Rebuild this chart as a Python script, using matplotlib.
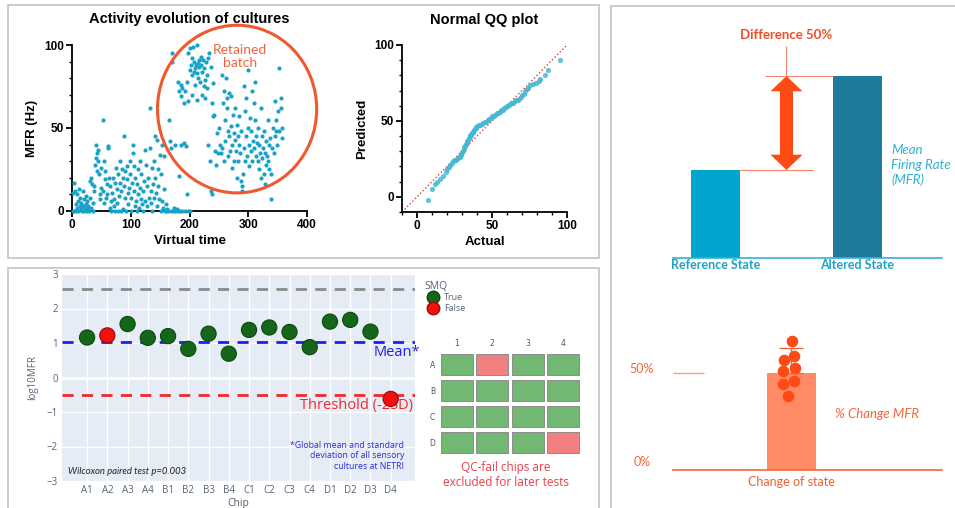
import matplotlib
matplotlib.use("Agg")
import matplotlib.pyplot as plt
from matplotlib.patches import Rectangle, Ellipse, FancyArrowPatch
from matplotlib.lines import Line2D
from matplotlib.ticker import MultipleLocator

# ---- activity scatter (virtual time vs MFR) ----
time_base = [1, 2, 3, 4, 5, 6, 7, 8, 9, 10, 11, 12, 13, 14, 15, 16, 17, 18, 19, 20, 21, 22, 23, 24, 25,
             26, 27, 28, 29, 30, 31, 32, 33, 34, 35, 36, 37, 38, 39, 40, 41, 42, 43, 44, 45, 46, 47, 48,
             49, 50, 52, 53, 54, 55, 56, 57, 58, 59, 60, 61, 62, 63, 64, 65, 66, 67, 68, 70, 71, 72, 73,
             74, 75, 76, 77, 78, 79, 80, 81, 82, 83, 84, 85, 86, 87, 88, 89, 90, 91, 92, 93, 94, 95, 96,
             97, 98, 99, 100, 101, 102, 103, 104, 105, 106, 107, 108, 109, 110, 111, 112, 113, 114, 115,
             116, 117, 118, 119, 120, 121, 122, 124, 125, 126, 127, 128, 130, 131, 132, 133, 134, 135,
             136, 137, 138, 139, 140, 141, 142, 143, 144, 145, 146, 147, 148, 150, 151, 152, 153, 154,
             155, 156, 157, 158, 160]
mfr_base = [0, 11, 17, 0, 12, 4, 0, 10, 2, 6, 0, 13, 3, 8, 1, 5, 0, 12, 3, 7, 0, 2, 9, 4, 0,
            6, 3, 1, 0, 18, 8, 2, 20, 16, 5, 0, 12, 15, 28, 32, 40, 24, 35, 37, 30, 22, 10, 7,
            26, 14, 55, 12, 5, 30, 19, 24, 8, 16, 10, 38, 39, 20, 2, 15, 6, 0, 11, 20, 3, 7, 17,
            0, 26, 13, 5, 0, 22, 9, 17, 30, 12, 0, 25, 20, 1, 45, 15, 8, 24, 0, 19, 27, 11, 4,
            14, 30, 22, 8, 0, 17, 35, 40, 12, 27, 3, 20, 6, 16, 0, 25, 10, 2, 30,
            14, 7, 22, 4, 12, 0, 18, 37, 6, 28, 15, 3, 20, 8, 38, 62, 12, 5,
            26, 0, 16, 30, 8, 45, 20, 11, 43, 3, 15, 25, 7, 34, 0, 22, 40, 6,
            2, 13, 33, 0, 4]
time_idle = [160, 162, 164, 165, 166, 168, 169, 170, 171, 172, 174, 175, 176, 178, 180, 182, 184,
             186, 188, 190, 192, 194, 196, 198, 200]
mfr_idle = [0, 1, 0, 55, 42, 0, 38, 95, 90, 0, 2, 0, 40, 1, 0, 21, 0,
            40, 0, 41, 0, 39, 10, 0, 0]
time_high = [180, 182, 185, 186, 188, 190, 192, 195, 198, 200, 201, 203, 204, 205, 206, 207, 208,
             209, 210, 211, 212, 213, 214, 215, 216, 217, 218, 219, 220, 221, 222, 223, 224, 225,
             226, 227, 228, 229, 230, 232, 234, 236, 238, 240, 205, 213, 198]
mfr_high = [78, 72, 76, 69, 74, 65, 72, 78, 95, 98, 85, 88, 82, 92, 99, 84, 90,
            76, 86, 88, 100, 83, 80, 89, 91, 87, 78, 93, 88, 70, 84, 91, 86, 75,
            79, 68, 90, 74, 82, 92, 95, 87, 65, 77, 70, 67, 66]
time_late = [232, 235, 237, 238, 240, 242, 244, 245, 246, 248, 250, 252, 253, 255, 256, 257, 258,
             259, 260, 261, 262, 263, 264, 265, 266, 267, 268, 269, 270, 271, 272, 273, 274, 275,
             276, 277, 278, 279, 280, 281, 282, 283, 284, 285, 286, 287, 288, 289, 290, 291, 292,
             293, 294, 295, 296, 297, 298, 299, 300, 301, 302, 303, 304, 305, 306, 307, 308, 309,
             310, 311, 312, 313, 314, 315, 316, 317, 318, 319, 320, 321, 322, 323, 324, 325, 326,
             327, 328, 329, 330, 331, 332, 333, 334, 335, 336, 337, 338, 339, 340, 342, 343, 345,
             346, 347, 348, 349, 350, 352, 353, 355, 356, 357, 358]
mfr_late = [40, 30, 12, 10, 57, 58, 36, 28, 47, 35, 50, 40, 35, 82, 38, 65, 72,
            30, 55, 42, 80, 68, 62, 33, 48, 71, 45, 36, 69, 51, 40, 26, 58, 47,
            30, 62, 43, 36, 52, 20, 45, 30, 40, 57, 35, 18, 48, 15, 12, 22, 75,
            38, 30, 60, 45, 68, 33, 85, 50, 40, 27, 56, 36, 48, 30, 72, 42, 65,
            38, 78, 55, 45, 33, 41, 50, 30, 25, 40, 35, 62, 20, 45, 32, 38, 22,
            48, 16, 35, 28, 42, 33, 55, 30, 40, 25, 44, 22, 7, 38, 50, 35, 66,
            45, 48, 55, 40, 60, 48, 86, 68, 62, 44, 50]

# ---- normal QQ ----
qq_actual = [7, 10, 12, 13, 15, 17, 19, 20, 21, 22, 23, 24, 25, 26, 27, 28, 28.5, 29, 29.5, 30,
             30.5, 31, 31.5, 32, 32.5, 33, 33.5, 34, 34.5, 35, 35.5, 36, 36.5, 37, 37.5, 38, 38.5,
             39, 39.5, 40, 41, 42, 43, 44, 45, 46, 47, 48, 49, 50, 51, 52, 53, 54, 55, 56, 57, 58,
             59, 60, 61, 62, 63, 64, 65, 66, 67, 68, 69, 70, 71, 72, 73, 74, 75, 77, 79, 81, 82,
             85, 87, 95]
qq_predicted = [-2, 5, 8.5, 10, 11.5, 14, 16.5, 18, 19.5, 21, 22.5, 23.5, 24, 24.5, 25.5, 26, 26.5,
                27.5, 28.5, 29.5, 30.5, 31.5, 32.5, 33.5, 34.5, 35.5, 36.5, 37.5, 38.5, 39.5, 40.5,
                41, 42, 42.5, 43, 44, 44.5, 45, 46, 46.5, 47, 47.5, 48, 48.5, 49, 49.5, 50.5, 51,
                52, 53, 53.5, 54, 55, 55.5, 56, 57, 57.5, 58.5, 59, 60, 60.5, 61, 61.5, 62, 63,
                63.5, 64, 64.5, 65.5, 67, 68, 70, 71, 72, 73.5, 74.5, 75, 76, 77.5, 80, 83.5, 90]

# ---- chip QC ----
chips = ["A1", "A2", "A3", "A4", "B1", "B2", "B3", "B4",
         "C1", "C2", "C3", "C4", "D1", "D2", "D3", "D4"]
log_mfr = [1.16, 1.22, 1.55, 1.15, 1.2, 0.83, 1.27, 0.69,
           1.38, 1.45, 1.32, 0.88, 1.62, 1.67, 1.33, -0.62]
smq_pass = [True, False, True, True, True, True, True, True,
            True, True, True, True, True, True, True, False]
global_mean = 1.03
threshold = -0.52
upper_line = 2.57
rows = ["A", "B", "C", "D"]
cols = [1, 2, 3, 4]

# ---- state comparison ----
states = ["Reference State", "Altered State"]
state_mfr = [44, 91]
change_label = ["Change of state"]
change_mean = [50]
change_sd = 12.9
change_points = [66.6, 58.8, 56.7, 52.7, 51.0, 45.9, 44.2, 38.1]
change_jitter = [0.006, 0.02, -0.051, 0.025, -0.058, 0.018, -0.062, -0.023]

W, H = 955, 508
fig = plt.figure(figsize=(W / 100, H / 100), dpi=100)


def px_axes(l, t, r, b):
    return fig.add_axes([l / W, 1 - b / H, (r - l) / W, (b - t) / H])


def px_text(x, y, s, **kw):
    return fig.text(x / W, 1 - y / H, s, **kw)


# panel frames
for (l, t, r, b) in [(8, 5, 599, 258), (8, 268, 599, 530), (611, 6, 990, 530)]:
    fig.add_artist(Rectangle((l / W, 1 - b / H), (r - l) / W, (b - t) / H, transform=fig.transFigure,
                             fill=False, ec="#C8C8C8", lw=1.3))

PRISM = "Liberation Sans"
OPEN = "Open Sans"
LATO = "Lato"


def prism_style(ax):
    for s in ["top", "right"]:
        ax.spines[s].set_visible(False)
    for s in ["left", "bottom"]:
        ax.spines[s].set_linewidth(1.3)
    ax.tick_params(which="major", length=4, width=1.3, labelsize=8.5, pad=2)
    ax.tick_params(which="minor", length=2.5, width=1.0)
    for lab in ax.get_xticklabels() + ax.get_yticklabels():
        lab.set_fontweight("bold")
        lab.set_fontfamily(PRISM)


# ---------------- scatter ----------------
cyan = "#1AA2C6"
ax1 = px_axes(72, 45, 307, 211)
for xs, ys in [(time_base, mfr_base), (time_idle, mfr_idle), (time_high, mfr_high), (time_late, mfr_late)]:
    ax1.scatter(xs, ys, s=9, color=cyan, lw=0, clip_on=False, zorder=3)
ax1.set_xlim(0, 400)
ax1.set_ylim(0, 100)
ax1.set_xticks([0, 100, 200, 300, 400])
ax1.set_yticks([0, 50, 100])
ax1.yaxis.set_minor_locator(MultipleLocator(10))
prism_style(ax1)
ax1.set_title("Activity evolution of cultures", fontsize=10.5, fontweight="bold", family=PRISM, pad=16)
ax1.set_xlabel("Virtual time", fontsize=9.5, fontweight="bold", family=PRISM, labelpad=3)
ax1.set_ylabel("MFR (Hz)", fontsize=9.5, fontweight="bold", family=PRISM, labelpad=4)
ax1.add_patch(Ellipse((281, 61.4), 271, 101, fill=False, ec="#EE5A2E", lw=2.2, clip_on=False, zorder=4))
ax1.text(286, 93, "Retained\nbatch", color="#F0643C", fontsize=10, family=LATO, ha="center", va="center",
         linespacing=1.05)

# ---------------- QQ ----------------
ax2 = px_axes(402, 45, 567, 212)
ax2.plot([-10, 100], [-10, 100], ls=":", color="#E23B3B", lw=1)
ax2.scatter(qq_actual, qq_predicted, s=14, color="#45B8D3", lw=0, alpha=0.85, zorder=3)
ax2.set_xlim(-10, 100)
ax2.set_ylim(-10, 100)
ax2.set_xticks([0, 50, 100])
ax2.set_yticks([0, 50, 100])
ax2.xaxis.set_minor_locator(MultipleLocator(10))
ax2.yaxis.set_minor_locator(MultipleLocator(10))
prism_style(ax2)
ax2.set_title("Normal QQ plot", fontsize=10.5, fontweight="bold", family=PRISM, pad=15)
ax2.set_xlabel("Actual", fontsize=9.5, fontweight="bold", family=PRISM, labelpad=3)
ax2.set_ylabel("Predicted", fontsize=9.5, fontweight="bold", family=PRISM, labelpad=4)

# ---------------- chip QC (plotly look) ----------------
green, red = "#15661A", "#F01010"
tick_gray = "#566276"
ax3 = px_axes(62, 274, 415, 481)
ax3.set_facecolor("#E5ECF6")
for s in ax3.spines.values():
    s.set_visible(False)
xpos = list(range(len(chips)))
ax3.set_xlim(-1.24, 16.2)
ax3.set_ylim(-3, 3)
ax3.set_xticks(xpos)
ax3.set_xticklabels(chips)
ax3.set_yticks([-3, -2, -1, 0, 1, 2, 3])
ax3.set_yticklabels(["\u22123", "\u22122", "\u22121", "0", "1", "2", "3"])
ax3.grid(True, color="white", lw=1)
ax3.axhline(0, color="white", lw=2)
ax3.set_axisbelow(True)
ax3.tick_params(length=0, labelsize=7, labelcolor=tick_gray, pad=3)
for lab in ax3.get_xticklabels() + ax3.get_yticklabels():
    lab.set_fontfamily(OPEN)
ax3.set_ylabel("log10MFR", fontsize=7, color=tick_gray, family=OPEN, labelpad=6)
ax3.set_xlabel("Chip", fontsize=7.5, color=tick_gray, family=OPEN, labelpad=1)
ax3.axhline(upper_line, color="#8A8A8A", ls=(0, (4, 3)), lw=2)
ax3.axhline(global_mean, color="#1E1EF0", ls=(0, (4, 3)), lw=2)
ax3.axhline(threshold, color="#EE2A2A", ls=(0, (4, 3)), lw=2)
ax3.scatter(xpos, log_mfr, s=120, c=[green if p else red for p in smq_pass],
            edgecolors=["#0B4A0B" if p else "#9A0A0A" for p in smq_pass], lw=0.8, zorder=4, clip_on=False)
ax3.text(16.45, 0.72, "Mean*", color="#1E1EF0", fontsize=10.5, family=OPEN, ha="right", va="center",
         clip_on=False)
ax3.text(16.1, -0.82, "Threshold (-2SD)", color="#EE2A2A", fontsize=10.5, family=OPEN, ha="right",
         va="center")
ax3.text(15.66, -2.27, "*Global mean and standard\ndeviation of all sensory\ncultures at NETRI",
         color="#2A2AE0", fontsize=6.3, family=OPEN, ha="right", va="center", multialignment="right")
ax3.text(-0.94, -2.73, "Wilcoxon paired test p=0.003", color="#222222", fontsize=6.8, family=LATO,
         style="italic", ha="left", va="center")
handles = [Line2D([], [], marker="o", ls="", ms=9, mfc=green, mec="#0B4A0B"),
           Line2D([], [], marker="o", ls="", ms=9, mfc=red, mec="#9A0A0A")]
leg = ax3.legend(handles, ["True", "False"], title="SMQ", loc="upper left",
                 bbox_to_anchor=(420 / W, 1 - 276 / H), bbox_transform=fig.transFigure, frameon=False,
                 fontsize=6.5, title_fontsize=7.5, alignment="left", handletextpad=0.4, labelspacing=0.2,
                 borderpad=0, handlelength=1.8)
for t in leg.get_texts():
    t.set_color(tick_gray)
    t.set_fontfamily(OPEN)
leg.get_title().set_color(tick_gray)
leg.get_title().set_fontfamily(OPEN)

# QC grid
ax4 = px_axes(439.4, 352.1, 580.6, 454.9)
for r, row in enumerate(rows):
    colors = ["#72B872" if smq_pass[r * 4 + c] else "#F38080" for c in range(4)]
    ax4.bar(cols, 0.82, bottom=r - 0.41, width=0.9, color=colors, edgecolor="#8C8C8C", lw=0.7)
ax4.set_xlim(0.5, 4.5)
ax4.set_ylim(3.5, -0.5)
ax4.set_xticks(cols)
ax4.set_yticks(range(4))
ax4.set_yticklabels(rows)
ax4.xaxis.tick_top()
ax4.tick_params(length=0, labelsize=5.5, labelcolor="#555555", pad=3)
for s in ax4.spines.values():
    s.set_visible(False)
px_text(506, 475, "QC-fail chips are\nexcluded for later tests", color="#EE3D48", fontsize=8.5,
        family=OPEN, ha="center", va="center", linespacing=1.25)

# ---------------- state comparison ----------------
teal_text = "#1FA2C8"
ax5 = px_axes(673, 30, 942, 258)
ax5.bar([0, 1], state_mfr, width=0.345, color=["#00A6CE", "#1F7B9B"])
ax5.set_xlim(-0.299, 1.595)
ax5.set_ylim(0, 114)
ax5.set_xticks([0, 1])
ax5.set_xticklabels(states)
ax5.set_yticks([])
for s in ["top", "right", "left"]:
    ax5.spines[s].set_visible(False)
ax5.spines["bottom"].set_color("#3AAFCF")
ax5.spines["bottom"].set_linewidth(1.2)
ax5.tick_params(length=0, pad=1, labelsize=9, labelcolor=teal_text)
for lab in ax5.get_xticklabels():
    lab.set_fontfamily(LATO)
    lab.set_fontweight("bold")
ax5.hlines(state_mfr[0], 0.172, 0.686, color="#F2826A", lw=0.8)
ax5.hlines(state_mfr[1], 0.349, 0.828, color="#F2826A", lw=0.8)
ax5.vlines(0.5, state_mfr[1], 106, color="#F2826A", lw=0.8)
mid = (state_mfr[0] + state_mfr[1]) / 2
for end in state_mfr:
    ax5.add_patch(FancyArrowPatch((0.5, mid), (0.5, end), shrinkA=0, shrinkB=0, mutation_scale=20,
                                  arrowstyle="simple,head_length=0.55,head_width=1.15,tail_width=0.47",
                                  color="#FF4A14", lw=0))
ax5.text(0.5, 111.5, "Difference 50%", color="#F04E23", fontsize=9.5, family=LATO, fontweight="bold",
         ha="center", va="center")
ax5.text(1.236, 46.5, "Mean\nFiring Rate\n(MFR)", color="#2FB0D0", fontsize=9.5, family=LATO,
         style="italic", ha="left", va="center", linespacing=1.3)

# ---------------- change of state ----------------
orange = "#F2663A"
ax6 = px_axes(673, 300, 942, 470)
ax6.bar([0], change_mean, width=0.345, color="#FF8B66")
ax6.errorbar([0], change_mean, yerr=[[0], [change_sd]], color=orange, lw=1, capsize=8.6, capthick=1)
ax6.scatter(change_jitter, change_points, s=70, color="#FF4A14", lw=0, zorder=4)
ax6.set_xlim(-0.834, 1.06)
ax6.set_ylim(0, 87.6)
ax6.set_xticks([0])
ax6.set_xticklabels(change_label)
ax6.set_yticks([])
for s in ["top", "right", "left"]:
    ax6.spines[s].set_visible(False)
ax6.spines["bottom"].set_color(orange)
ax6.spines["bottom"].set_linewidth(1.2)
ax6.tick_params(length=0, pad=4, labelsize=9, labelcolor="#F0602E")
for lab in ax6.get_xticklabels():
    lab.set_fontfamily(LATO)
ax6.hlines(50, -0.834, -0.616, color="#F6A08A", lw=1)
ax6.text(-1.053, 50, "50%", color=orange, fontsize=9, family=LATO, ha="center", va="baseline",
         clip_on=False)
ax6.text(-1.053, 2, "0%", color=orange, fontsize=9, family=LATO, ha="center", va="baseline",
         clip_on=False)
ax6.text(0.306, 28.9, "% Change MFR", color=orange, fontsize=9.5, family=LATO, style="italic",
         ha="left", va="center")

fig.savefig("out.png", dpi=100)
